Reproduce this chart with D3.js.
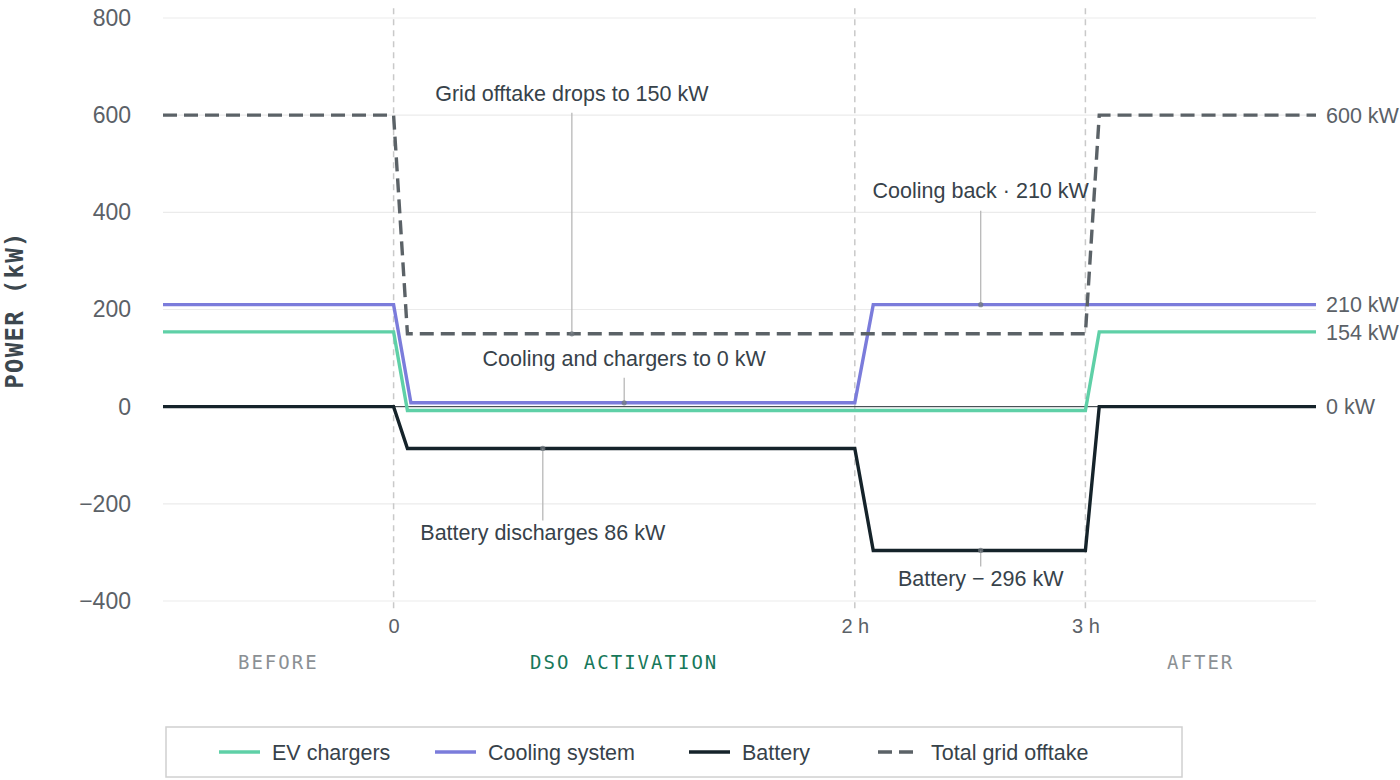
<!DOCTYPE html>
<html>
<head>
<meta charset="utf-8">
<script src="https://cdn.jsdelivr.net/npm/d3@7"></script>
<style>
  body { margin: 0; background: #fff; }
  svg { font-family: "Liberation Sans", Arial, sans-serif; }
</style>
</head>
<body>
<script>
// time in hours relative to DSO activation, power in kW
var evTime = [-1, 0, 0.06, 3, 3.06, 4];
var evPower = [154, 154, -8, -8, 154, 154];

var coolTime = [-1, 0, 0.075, 2, 2.08, 4];
var coolPower = [210, 210, 8, 8, 210, 210];

var batTime = [-1, 0, 0.06, 2, 2.08, 3, 3.06, 4];
var batPower = [0, 0, -86, -86, -296, -296, 0, 0];

var gridTime = [-1, 0, 0.06, 3, 3.06, 4];
var gridPower = [600, 600, 150, 150, 600, 600];

var yTicks = [-400, -200, 0, 200, 400, 600, 800];
var xTicks = [0, 2, 3];
var xTickLabels = ["0", "2 h", "3 h"];

var phaseNames = ["BEFORE", "DSO ACTIVATION", "AFTER"];
var phaseStart = [-1, 0, 3];
var phaseEnd = [0, 2, 4];

var endLabels = ["600 kW", "210 kW", "154 kW", "0 kW"];
var endValues = [600, 210, 154, 0];

var annoText = ["Grid offtake drops to 150 kW", "Cooling and chargers to 0 kW",
                "Battery discharges 86 kW", "Cooling back \u00b7 210 kW", "Battery \u2212 296 kW"];
var annoTime = [0.773, 1.0, 0.647, 2.546, 2.546];
var annoPower = [150, 8, -86, 210, -296];

var seriesNames = ["EV chargers", "Cooling system", "Battery", "Total grid offtake"];

function graficar() {
    var w = 1400, h = 780;
    var colEv = "#5fd0a7", colCool = "#7b7cdb", colBat = "#15232a", colGrid = "#5b6267";

    var svg = d3.select("body").append("svg")
        .attr("width", w)
        .attr("height", h);

    var x = d3.scaleLinear().domain([-1, 4]).range([163, 1316]);
    var y = d3.scaleLinear().domain([-400, 800]).range([601, 18]);

    // horizontal grid
    svg.append("g").selectAll("line")
        .data(yTicks)
        .enter().append("line")
        .attr("x1", x(-1)).attr("x2", x(4))
        .attr("y1", function(d) { return y(d); })
        .attr("y2", function(d) { return y(d); })
        .attr("stroke", "#ebebeb")
        .attr("stroke-width", 1.2);

    // event markers
    svg.append("g").selectAll("line")
        .data(xTicks)
        .enter().append("line")
        .attr("x1", function(d) { return x(d); })
        .attr("x2", function(d) { return x(d); })
        .attr("y1", y(820)).attr("y2", y(-425))
        .attr("stroke", "#c9c9c9")
        .attr("stroke-width", 1.5)
        .attr("stroke-dasharray", "6,5");

    // zero line
    svg.append("line")
        .attr("x1", x(-1)).attr("x2", x(4))
        .attr("y1", y(0)).attr("y2", y(0))
        .attr("stroke", "#2b353b")
        .attr("stroke-width", 1);

    // y axis
    var yAxis = svg.append("g")
        .attr("transform", "translate(" + x(-1) + ",0)")
        .call(d3.axisLeft(y).tickValues(yTicks).tickSize(0).tickPadding(32));
    yAxis.select(".domain").remove();
    yAxis.selectAll("text")
        .attr("font-family", "Liberation Sans, Arial, sans-serif")
        .attr("font-size", 23)
        .attr("fill", "#5b6167");

    // x axis
    var xAxis = svg.append("g")
        .attr("transform", "translate(0," + y(-400) + ")")
        .call(d3.axisBottom(x).tickValues(xTicks).tickSize(0).tickPadding(18)
            .tickFormat(function(d, i) { return xTickLabels[i]; }));
    xAxis.select(".domain").remove();
    xAxis.selectAll("text")
        .attr("font-family", "Liberation Sans, Arial, sans-serif")
        .attr("font-size", 20)
        .attr("fill", "#5b6167");

    // y title
    svg.append("text")
        .attr("transform", "translate(23," + 310 + ") rotate(-90)")
        .attr("text-anchor", "middle")
        .attr("font-family", "DejaVu Sans Mono, monospace")
        .attr("font-weight", "bold")
        .attr("font-size", 24)
        .attr("letter-spacing", 1.3)
        .attr("fill", "#3c474e")
        .text("POWER (kW)");

    // phase labels
    svg.append("g").selectAll("text")
        .data(phaseNames)
        .enter().append("text")
        .attr("x", function(d, i) { return (x(phaseStart[i]) + x(phaseEnd[i])) / 2; })
        .attr("y", 669)
        .attr("text-anchor", "middle")
        .attr("font-family", "DejaVu Sans Mono, monospace")
        .attr("font-size", 19)
        .attr("letter-spacing", 2)
        .attr("fill", function(d, i) { return i === 1 ? "#17785a" : "#8b9094"; })
        .text(function(d) { return d; });

    // series
    var line = d3.line()
        .x(function(d) { return x(d[0]); })
        .y(function(d) { return y(d[1]); });

    var series = [
        { t: evTime, v: evPower, c: colEv, dash: null },
        { t: coolTime, v: coolPower, c: colCool, dash: null },
        { t: batTime, v: batPower, c: colBat, dash: null },
        { t: gridTime, v: gridPower, c: colGrid, dash: "14,7" }
    ];

    svg.append("g").selectAll("path")
        .data(series)
        .enter().append("path")
        .attr("d", function(s) { return line(d3.zip(s.t, s.v)); })
        .attr("fill", "none")
        .attr("stroke", function(s) { return s.c; })
        .attr("stroke-width", 3.4)
        .attr("stroke-linejoin", "miter")
        .attr("stroke-dasharray", function(s) { return s.dash; });

    // end labels
    svg.append("g").selectAll("text")
        .data(endLabels)
        .enter().append("text")
        .attr("x", x(4) + 10)
        .attr("y", function(d, i) { return y(endValues[i]); })
        .attr("dy", "0.36em")
        .attr("font-size", 21.5)
        .attr("fill", "#5b6167")
        .text(function(d) { return d; });

    // annotations: offset of label centre from the anchor, px
    var labelOffset = [-241, -45, 84, -114, 28];
    var anno = svg.append("g");
    annoText.forEach(function(t, i) {
        var ax = x(annoTime[i]), ay = y(annoPower[i]);
        var ly = ay + labelOffset[i];
        var lineEnd = labelOffset[i] < 0 ? ly + 20 : ly - 12;
        anno.append("line")
            .attr("x1", ax).attr("x2", ax)
            .attr("y1", ay).attr("y2", lineEnd)
            .attr("stroke", "#b8b8b8")
            .attr("stroke-width", 1.3);
        anno.append("circle")
            .attr("cx", ax).attr("cy", ay)
            .attr("r", 2.6)
            .attr("fill", "#6f777d")
            .attr("opacity", 0.75);
        anno.append("text")
            .attr("x", ax)
            .attr("y", ly)
            .attr("dy", "0.36em")
            .attr("text-anchor", "middle")
            .attr("font-size", 21.5)
            .attr("fill", "#37424a")
            .text(t);
    });

    // legend
    var leg = svg.append("g");
    leg.append("rect")
        .attr("x", 166).attr("y", 727)
        .attr("width", 1016).attr("height", 50)
        .attr("fill", "#fff")
        .attr("stroke", "#d0d0d0")
        .attr("stroke-width", 1.5);
    var legX = [219, 435, 689, 878];
    var items = leg.selectAll("g.item")
        .data(series)
        .enter().append("g")
        .attr("class", "item")
        .attr("transform", function(d, i) { return "translate(" + legX[i] + ",752)"; });
    items.append("line")
        .attr("x1", 0).attr("x2", function(s) { return s.dash ? 36 : 41; })
        .attr("y1", 0).attr("y2", 0)
        .attr("stroke", function(s) { return s.c; })
        .attr("stroke-width", 3.5)
        .attr("stroke-dasharray", function(s) { return s.dash; });
    items.append("text")
        .attr("x", 53)
        .attr("dy", "0.36em")
        .attr("font-size", 21.5)
        .attr("fill", "#37424a")
        .text(function(d, i) { return seriesNames[i]; });
}

graficar();
</script>
</body>
</html>
